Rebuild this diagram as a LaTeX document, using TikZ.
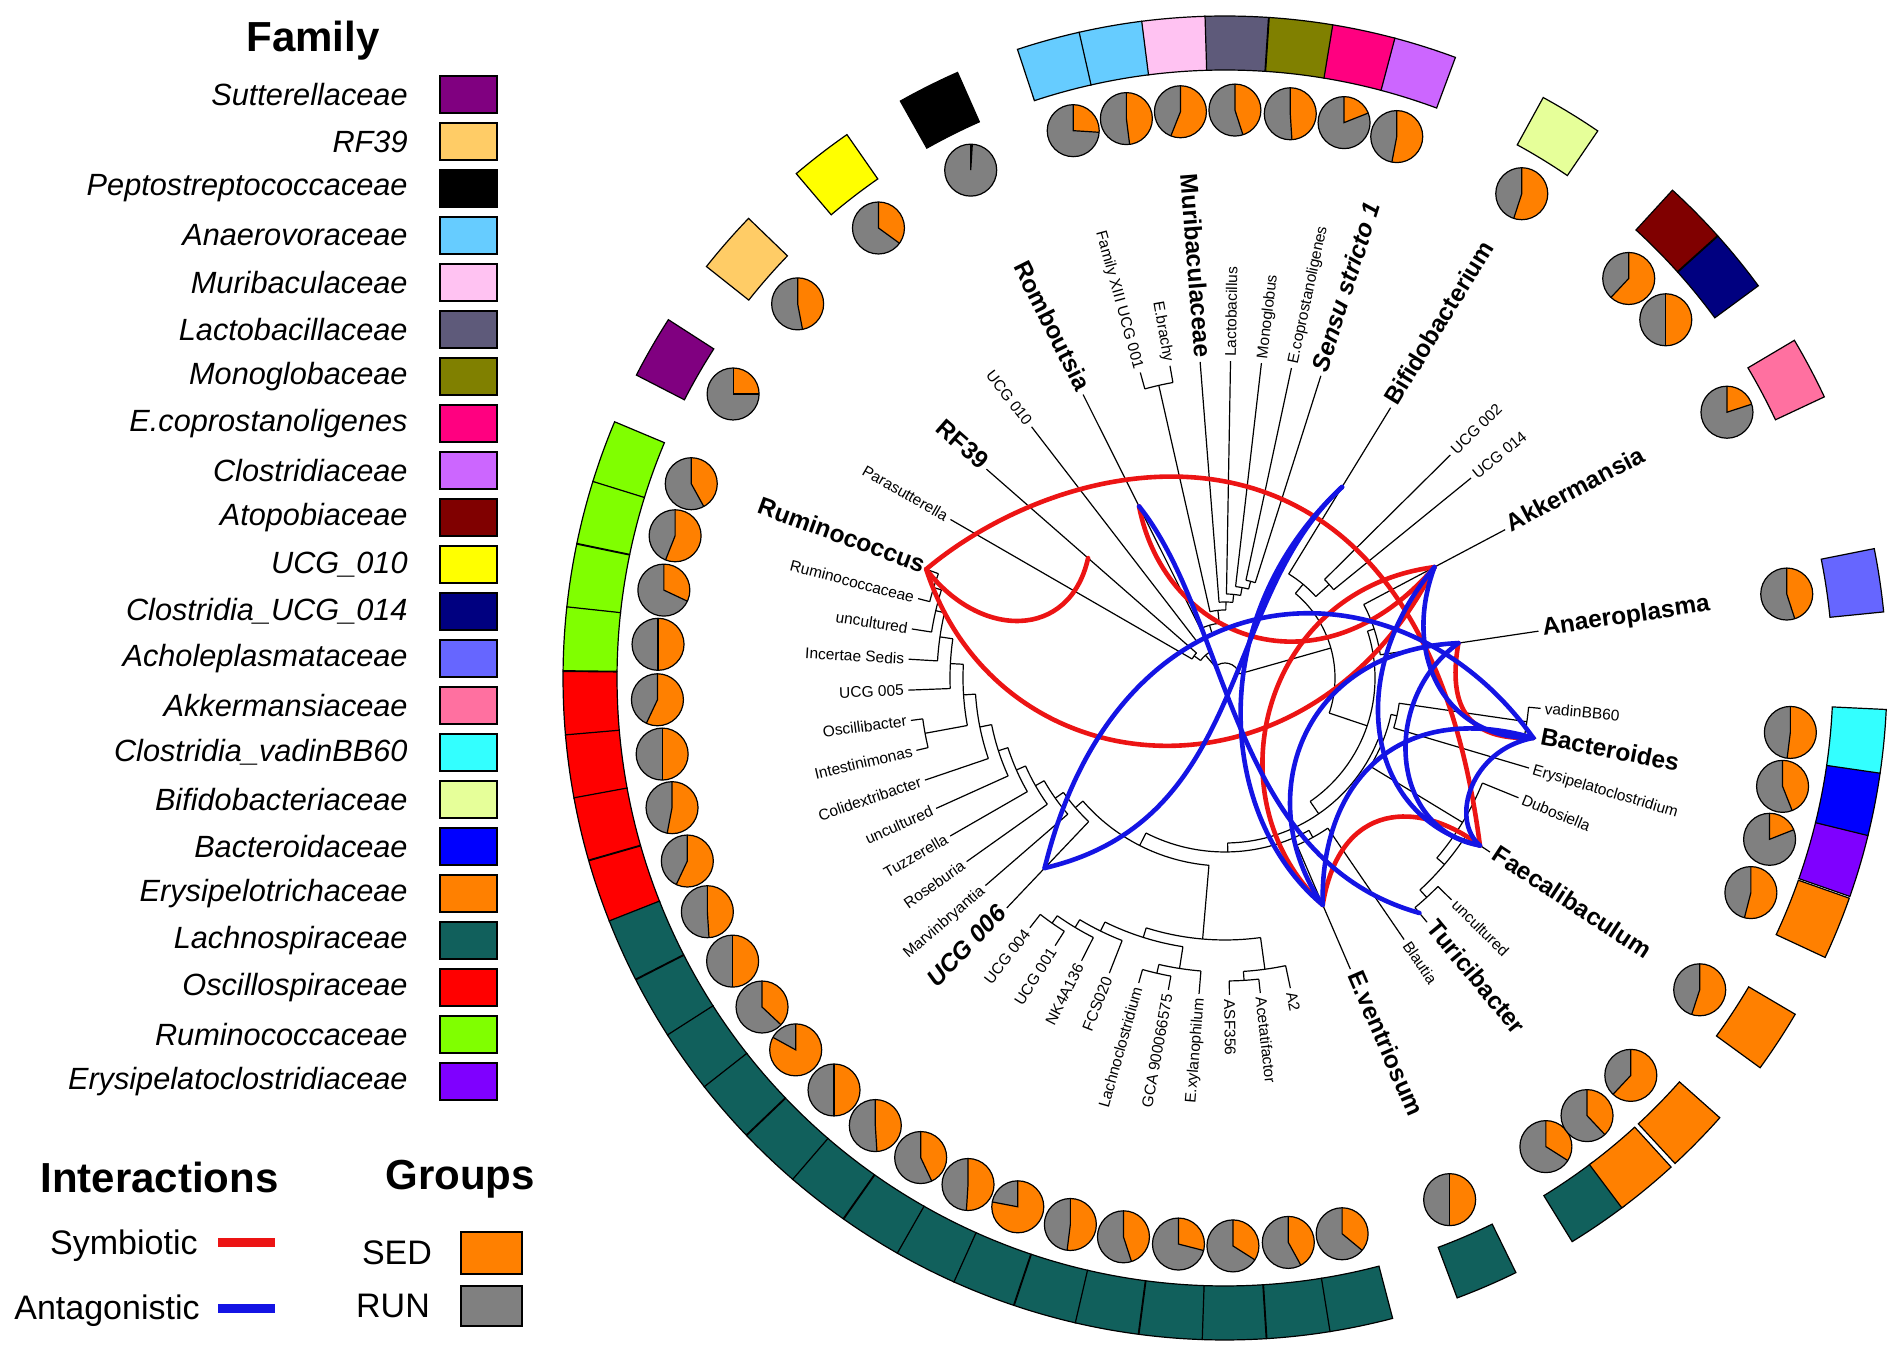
\documentclass[tikz,border=0pt]{standalone}
\usepackage{fontspec}
\setmainfont{Liberation Sans}
\definecolor{cSut}{RGB}{128,0,128}
\definecolor{cRF}{RGB}{255,204,102}
\definecolor{cPep}{RGB}{0,0,0}
\definecolor{cAnv}{RGB}{102,204,255}
\definecolor{cMur}{RGB}{255,194,242}
\definecolor{cLac}{RGB}{94,90,122}
\definecolor{cMon}{RGB}{128,128,0}
\definecolor{cEco}{RGB}{255,0,128}
\definecolor{cClo}{RGB}{204,102,255}
\definecolor{cAto}{RGB}{128,0,0}
\definecolor{cUten}{RGB}{255,255,0}
\definecolor{cUft}{RGB}{0,0,128}
\definecolor{cAch}{RGB}{102,102,255}
\definecolor{cAkk}{RGB}{255,112,160}
\definecolor{cVad}{RGB}{51,255,255}
\definecolor{cBif}{RGB}{230,255,153}
\definecolor{cBac}{RGB}{0,0,255}
\definecolor{cEry}{RGB}{255,128,0}
\definecolor{cLach}{RGB}{17,96,92}
\definecolor{cOsc}{RGB}{255,0,0}
\definecolor{cRum}{RGB}{128,255,0}
\definecolor{cEcl}{RGB}{127,0,255}
\definecolor{sedc}{RGB}{255,128,0}
\definecolor{runc}{RGB}{128,128,128}
\definecolor{symc}{RGB}{236,20,20}
\definecolor{antc}{RGB}{20,20,228}
\tikzset{
  tree/.style={line width=0.6pt,black},
  tileline/.style={draw=black,line width=0.6pt},
  pieline/.style={draw=black,line width=0.6pt},
  smalllab/.style={font=\fontsize{7.75}{9}\selectfont,inner sep=0pt},
  biglab/.style={font=\fontsize{12.25}{14}\selectfont\bfseries,inner sep=0pt},
  bigitlab/.style={font=\fontsize{12.25}{14}\selectfont\bfseries\itshape,inner sep=0pt},
  sym/.style={symc,line width=2.3pt,line cap=round},
  ant/.style={antc,line width=2.3pt,line cap=round},
  legtext/.style={font=\fontsize{15.35}{18}\selectfont\itshape,inner sep=0pt},
  legtitle/.style={font=\fontsize{21}{24}\selectfont\bfseries,inner sep=0pt},
  legplain/.style={font=\fontsize{17}{20}\selectfont,inner sep=0pt}
}
\newcommand\mytile[2]{\filldraw[fill=#2,tileline] ({#1-2.77}:608) arc[start angle={#1-2.77},end angle={#1+2.77},radius=608] -- ({#1+2.77}:662) arc[start angle={#1+2.77},end angle={#1-2.77},radius=662] -- cycle;}
\newcommand\mypie[2]{%
  \fill[runc] (#1:568) circle[radius=26];
  \fill[sedc] (#1:568) -- ++(90:26) arc[start angle=90,end angle={90-360*#2},radius=26] -- cycle;
  \draw[pieline] (#1:568) circle[radius=26];
  \draw[pieline] (#1:568) ++(90:26) -- (#1:568) -- ++({90-360*#2}:26);}
\newcommand\myarc[3]{\draw[tree] (#2:#1) arc[start angle=#2,end angle=#3,radius=#1];}
\newcommand\mybr[3]{\draw[tree] (#1:#2) -- (#1:#3);}
\newcommand\mylab[4]{%
  \pgfmathsetmacro\labc{cos(#2)}%
  \ifdim\labc pt<0pt
    \node[#3,anchor=mid east,rotate={#2-180}] (#1) at (#2:321) {#4};
  \else
    \node[#3,anchor=mid west,rotate=#2] (#1) at (#2:321) {#4};
  \fi}
\begin{document}
\begin{tikzpicture}[x=0.5pt,y=0.5pt]
\useasboundingbox (0,0) rectangle (1902,1354);
\fill[white] (0,0) rectangle (1902,1354);

% ---------------- circular part ----------------
\begin{scope}[shift={(1225,676)}]
% tiles and pies
\foreach \a/\c/\f in {58.5/cBif/0.55, 72.4/cClo/0.53, 77.9/cEco/0.19, 83.4/cMon/0.49,
  89.0/cLac/0.45, 94.5/cMur/0.56, 100.0/cAnv/0.48, 105.5/cAnv/0.26, 116.6/cPep/0.01,
  127.6/cUten/0.35, 138.8/cRF/0.47, 150.0/cSut/0.25,
  160.0/cRum/0.42, 165.5/cRum/0.56, 171.1/cRum/0.32, 176.6/cRum/0.50,
  182.2/cOsc/0.57, 187.7/cOsc/0.50, 193.2/cOsc/0.53, 198.8/cOsc/0.57,
  204.3/cLach/0.49, 209.9/cLach/0.50, 215.4/cLach/0.37, 220.9/cLach/0.83,
  226.5/cLach/0.50, 232.0/cLach/0.49, 237.6/cLach/0.43, 243.1/cLach/0.51,
  248.6/cLach/0.78, 254.2/cLach/0.52, 259.7/cLach/0.45, 265.3/cLach/0.29,
  270.8/cLach/0.34, 276.4/cLach/0.42, 281.9/cLach/0.36,
  293.3/cLach/0.50, 304.4/cLach/0.34, 309.6/cEry/0.38, 315.6/cEry/0.62,
  326.7/cEry/0.55, 337.8/cEry/0.54, 343.5/cEcl/0.19, 349.0/cBac/0.44,
  354.5/cVad/0.52, 368.5/cAch/0.45, 387.9/cAkk/0.20, 399.1/cUft/0.50,
  404.7/cAto/0.62}{\mytile{\a}{\c}\mypie{\a}{\f}}

% tree: top group
\myarc{300}{100.0}{105.5} \mybr{100.0}{300}{317} \mybr{105.5}{300}{317}
\myarc{100}{72.4}{77.9} \mybr{72.4}{100}{317} \mybr{77.9}{100}{317}
\myarc{92}{75.15}{83.4} \mybr{75.15}{92}{100} \mybr{83.4}{92}{317}
\myarc{84}{79.3}{89.0} \mybr{79.3}{84}{92} \mybr{89.0}{84}{317}
\myarc{76}{84.1}{94.5} \mybr{84.1}{76}{84} \mybr{94.5}{76}{317}
\myarc{68}{89.3}{102.75} \mybr{89.3}{68}{76} \mybr{102.75}{68}{300}
\myarc{55}{96.0}{116.6} \mybr{96.0}{55}{68} \mybr{116.6}{55}{317}
\myarc{45}{106.3}{127.6} \mybr{106.3}{45}{55} \mybr{127.6}{45}{317}
\myarc{38}{138.8}{150.0} \mybr{138.8}{38}{317} \mybr{150.0}{38}{317}
\myarc{30}{117.0}{144.4} \mybr{117.0}{30}{45} \mybr{144.4}{30}{38}
% left group
\myarc{305}{160.0}{165.5} \mybr{160.0}{305}{317} \mybr{165.5}{305}{317}
\myarc{297}{162.75}{171.1} \mybr{162.75}{297}{305} \mybr{171.1}{297}{317}
\myarc{288}{166.9}{176.6} \mybr{166.9}{288}{297} \mybr{176.6}{288}{317}
\myarc{275}{171.8}{182.2} \mybr{171.8}{275}{288} \mybr{182.2}{275}{317}
\myarc{305}{187.7}{193.2} \mybr{187.7}{305}{317} \mybr{193.2}{305}{317}
\myarc{262}{177.0}{190.45} \mybr{177.0}{262}{275} \mybr{190.45}{262}{305}
\myarc{250}{183.7}{198.8} \mybr{183.7}{250}{262} \mybr{198.8}{250}{317}
\myarc{238}{191.3}{204.3} \mybr{191.3}{238}{250} \mybr{204.3}{238}{317}
\myarc{228}{197.8}{209.9} \mybr{197.8}{228}{238} \mybr{209.9}{228}{317}
\myarc{218}{203.8}{215.4} \mybr{203.8}{218}{228} \mybr{215.4}{218}{317}
\myarc{208}{209.6}{220.9} \mybr{209.6}{208}{218} \mybr{220.9}{208}{317}
\myarc{198}{215.3}{226.5} \mybr{215.3}{198}{208} \mybr{226.5}{198}{317}
% Lachnospiraceae group
\myarc{300}{232.0}{237.6} \mybr{232.0}{300}{317} \mybr{237.6}{300}{317}
\myarc{291}{234.8}{243.1} \mybr{234.8}{291}{300} \mybr{243.1}{291}{317}
\myarc{282}{239.0}{248.6} \mybr{239.0}{282}{291} \mybr{248.6}{282}{317}
\myarc{303}{254.2}{259.7} \mybr{254.2}{303}{317} \mybr{259.7}{303}{317}
\myarc{294}{257.0}{265.3} \mybr{257.0}{294}{303} \mybr{265.3}{294}{317}
\myarc{272}{243.8}{261.1} \mybr{243.8}{272}{282} \mybr{261.1}{272}{294}
\myarc{303}{270.8}{276.4} \mybr{270.8}{303}{317} \mybr{276.4}{303}{317}
\myarc{294}{273.6}{281.9} \mybr{273.6}{294}{303} \mybr{281.9}{294}{317}
\myarc{262}{252.5}{277.8} \mybr{252.5}{262}{272} \mybr{277.8}{262}{294}
\myarc{188}{220.9}{265.1} \mybr{220.9}{188}{198} \mybr{265.1}{188}{262}
\myarc{182}{293.3}{304.4} \mybr{293.3}{182}{317} \mybr{304.4}{182}{317}
\myarc{174}{243.0}{298.85} \mybr{243.0}{174}{188} \mybr{298.85}{174}{182}
% right group
\myarc{298}{309.6}{315.6} \mybr{309.6}{298}{317} \mybr{315.6}{298}{317}
\myarc{288}{312.6}{326.7} \mybr{312.6}{288}{298} \mybr{326.7}{288}{317}
\myarc{278}{319.65}{337.8} \mybr{319.65}{278}{288} \mybr{337.8}{278}{317}
\myarc{305}{349.0}{354.5} \mybr{349.0}{305}{317} \mybr{354.5}{305}{317}
\myarc{176}{343.5}{351.75} \mybr{343.5}{176}{317} \mybr{351.75}{176}{305}
\myarc{170}{328.7}{347.6} \mybr{328.7}{170}{278} \mybr{347.6}{170}{176}
\myarc{165}{270.9}{338.2} \mybr{270.9}{165}{174} \mybr{338.2}{165}{170}
\myarc{157}{368.5}{387.9} \mybr{368.5}{157}{317} \mybr{387.9}{157}{317}
\myarc{150}{304.6}{378.2} \mybr{304.6}{150}{165} \mybr{378.2}{150}{157}
\myarc{140}{399.1}{404.7} \mybr{399.1}{140}{317} \mybr{404.7}{140}{317}
\myarc{122}{401.9}{418.5} \mybr{401.9}{122}{140} \mybr{418.5}{122}{317}
\myarc{110}{341.4}{410.2} \mybr{341.4}{110}{150} \mybr{410.2}{110}{122}
\myarc{15}{375.8}{490.7} \mybr{375.8}{15}{110} \mybr{490.7}{15}{30}

% labels
\mylab{l1}{58.5}{biglab}{Bifidobacterium}
\mylab{l2}{72.4}{bigitlab}{Sensu stricto 1}
\mylab{l3}{77.9}{smalllab}{E.coprostanoligenes}
\mylab{l4}{83.4}{smalllab}{Monoglobus}
\mylab{l5}{89.0}{smalllab}{Lactobacillus}
\mylab{l6}{94.5}{biglab}{Muribaculaceae}
\mylab{l7}{100.0}{smalllab}{E.brachy}
\mylab{l8}{105.5}{smalllab}{Family XIII UCG 001}
\mylab{l9}{116.6}{biglab}{Romboutsia}
\mylab{l10}{127.6}{smalllab}{UCG 010}
\mylab{l11}{138.8}{biglab}{RF39}
\mylab{l12}{150.0}{smalllab}{Parasutterella}
\mylab{l13}{160.0}{biglab}{Ruminococcus}
\mylab{l14}{165.5}{smalllab}{Ruminococcaceae}
\mylab{l15}{171.1}{smalllab}{uncultured}
\mylab{l16}{176.6}{smalllab}{Incertae Sedis}
\mylab{l17}{182.2}{smalllab}{UCG 005}
\mylab{l18}{187.7}{smalllab}{Oscillibacter}
\mylab{l19}{193.2}{smalllab}{Intestinimonas}
\mylab{l20}{198.8}{smalllab}{Colidextribacter}
\mylab{l21}{204.3}{smalllab}{uncultured}
\mylab{l22}{209.9}{smalllab}{Tuzzerella}
\mylab{l23}{215.4}{smalllab}{Roseburia}
\mylab{l24}{220.9}{smalllab}{Marvinbryantia}
\mylab{l25}{226.5}{bigitlab}{UCG 006}
\mylab{l26}{232.0}{smalllab}{UCG 004}
\mylab{l27}{237.6}{smalllab}{UCG 001}
\mylab{l28}{243.1}{smalllab}{NK4A136}
\mylab{l29}{248.6}{smalllab}{FCS020}
\mylab{l30}{254.2}{smalllab}{Lachnoclostridium}
\mylab{l31}{259.7}{smalllab}{GCA 900066575}
\mylab{l32}{265.3}{smalllab}{E.xylanophilum}
\mylab{l33}{270.8}{smalllab}{ASF356}
\mylab{l34}{276.4}{smalllab}{Acetatifactor}
\mylab{l35}{281.9}{smalllab}{A2}
\mylab{l36}{293.3}{biglab}{E.ventriosum}
\mylab{l37}{304.4}{smalllab}{Blautia}
\mylab{l38}{309.6}{biglab}{Turicibacter}
\mylab{l39}{315.6}{smalllab}{uncultured}
\mylab{l40}{326.7}{biglab}{Faecalibaculum}
\mylab{l41}{337.8}{smalllab}{Dubosiella}
\mylab{l42}{343.5}{smalllab}{Erysipelatoclostridium}
\mylab{l43}{349.0}{biglab}{Bacteroides}
\mylab{l44}{354.5}{smalllab}{vadinBB60}
\mylab{l45}{368.5}{biglab}{Anaeroplasma}
\mylab{l46}{387.9}{biglab}{Akkermansia}
\mylab{l47}{399.1}{smalllab}{UCG 014}
\mylab{l48}{404.7}{smalllab}{UCG 002}

% interaction end points
\coordinate (Ru) at (160.0:318);
\coordinate (RF) at (138.8:182);
\coordinate (Ro) at (116.6:192);
\coordinate (Bi) at (58.5:224);
\coordinate (Ak) at (27.9:237);
\coordinate (An) at (8.5:236);
\coordinate (Ba) at (-11.0:314);
\coordinate (Fa) at (-33.3:305);
\coordinate (Tu) at (-50.4:305);
\coordinate (EV) at (-66.7:247);
\coordinate (U6) at (226.5:262);
\end{scope}

% ---------------- curves and legend (image pixel frame, y down) ----------------
\begin{scope}[shift={(0,1354)},yscale=-1]
% symbiotic
\draw[sym] (Ru) .. controls (1080,440) and (1420,380) .. (Fa);
\draw[sym] (Ru) .. controls (980,640) and (1070,640) .. (RF);
\draw[sym] (Ru) .. controls (1000,795) and (1310,815) .. (Ak);
\draw[sym] (Ro) .. controls (1165,640) and (1320,700) .. (Ak);
\draw[sym] (Ak) .. controls (1260,590) and (1210,800) .. (EV);
\draw[sym] (An) .. controls (1445,720) and (1480,740) .. (Ba);
\draw[sym] (EV) .. controls (1340,800) and (1420,800) .. (Fa);
% antagonistic
\draw[ant] (Ro) .. controls (1230,620) and (1230,860) .. (Tu);
\draw[ant] (Bi) .. controls (1200,620) and (1220,820) .. (EV);
\draw[ant] (U6) .. controls (1120,560) and (1400,550) .. (Ba);
\draw[ant] (Bi) .. controls (1220,600) and (1250,820) .. (U6);
\draw[ant] (Ak) .. controls (1400,660) and (1450,740) .. (Ba);
\draw[ant] (Ak) .. controls (1340,680) and (1370,820) .. (Fa);
\draw[ant] (An) .. controls (1300,650) and (1250,800) .. (EV);
\draw[ant] (An) .. controls (1380,700) and (1390,830) .. (Fa);
\draw[ant] (Ba) .. controls (1470,750) and (1450,820) .. (Fa);
\draw[ant] (Ba) .. controls (1400,700) and (1320,780) .. (EV);

% Family legend
\node[legtitle] (famtitle) at (313,41) {Family};
\foreach \n/\c [count=\i from 0] in {Sutterellaceae/cSut, RF39/cRF, Peptostreptococcaceae/cPep,
  Anaerovoraceae/cAnv, Muribaculaceae/cMur, Lactobacillaceae/cLac, Monoglobaceae/cMon,
  E.coprostanoligenes/cEco, Clostridiaceae/cClo, Atopobiaceae/cAto, UCG\_010/cUten,
  Clostridia\_UCG\_014/cUft, Acholeplasmataceae/cAch, Akkermansiaceae/cAkk,
  Clostridia\_vadinBB60/cVad, Bifidobacteriaceae/cBif, Bacteroidaceae/cBac,
  Erysipelotrichaceae/cEry, Lachnospiraceae/cLach, Oscillospiraceae/cOsc,
  Ruminococcaceae/cRum, Erysipelatoclostridiaceae/cEcl}{
  \node[legtext,anchor=east] (fam\i) at (408,{94.6+47*\i}) {\n};
  \filldraw[fill=\c,draw=black,line width=0.6pt] (440,{94.6+47*\i-18.5}) rectangle (497,{94.6+47*\i+18.5});
}

% Interactions / Groups legend
\node[legtitle,anchor=west] (inttitle) at (40,1177) {Interactions};
\node[legtitle,anchor=west] (grptitle) at (385,1179) {Groups};
\node[legplain,anchor=east] (symlab) at (198,1246) {Symbiotic};
\node[legplain,anchor=east] (antlab) at (200,1311) {Antagonistic};
\coordinate (sa) at (218,1243); \coordinate (sb) at (275,1243);
\coordinate (aa) at (218,1309); \coordinate (ab) at (275,1309);
\draw[symc,line width=4.5pt] (sa) -- (sb);
\draw[antc,line width=4.5pt] (aa) -- (ab);
\node[legplain] (sedlab) at (397,1253) {SED};
\node[legplain] (runlab) at (393,1306) {RUN};
\filldraw[fill=sedc,draw=black,line width=0.6pt] (461,1232) rectangle (522,1274);
\filldraw[fill=runc,draw=black,line width=0.6pt] (461,1286) rectangle (522,1326);
\end{scope}
\end{tikzpicture}
\end{document}
